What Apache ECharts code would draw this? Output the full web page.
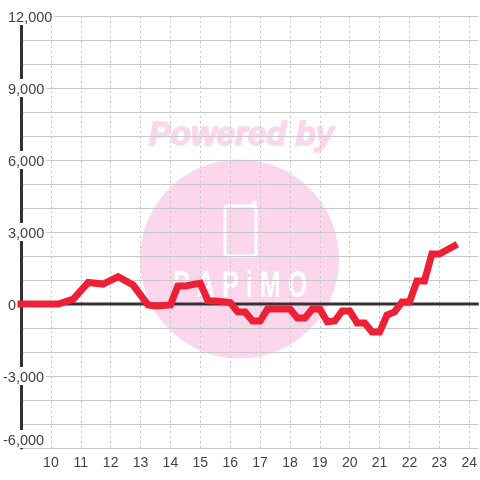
<!DOCTYPE html>
<html>
<head>
<meta charset="utf-8">
<style>
html, body { margin: 0; padding: 0; background: #fff; }
#main { width: 480px; height: 480px; }
</style>
<script src="https://cdn.jsdelivr.net/npm/echarts@6/dist/echarts.min.js"></script>
</head>
<body>
<div id="main"></div>
<script>
// time of day in hours, and the value at each time
const hours = [9, 10.25, 10.75, 11.25, 11.75, 12.25, 12.75, 13.25, 13.5, 14, 14.25, 14.5, 15, 15.25, 15.5, 16, 16.25, 16.5, 16.75, 17, 17.25, 18, 18.25, 18.5, 18.75, 19, 19.25, 19.5, 19.75, 20, 20.25, 20.5, 20.75, 21, 21.25, 21.5, 21.75, 22, 22.25, 22.5, 22.75, 23, 23.5]
const values = [0, 0, 200, 900, 830, 1140, 790, -40, -80, -40, 750, 750, 870, 140, 130, 60, -320, -330, -710, -710, -210, -210, -580, -580, -210, -210, -740, -710, -290, -290, -790, -790, -1170, -1170, -460, -330, 80, 80, 960, 960, 2080, 2080, 2420]
const zeroHours = [9, 24.32]
const zeroValues = [0, 0]
const hourLabels = [10, 11, 12, 13, 14, 15, 16, 17, 18, 19, 20, 21, 22, 23, 24]
const valueLabels = [-6000, -3000, 0, 3000, 6000, 9000, 12000]

const pink = "#fbd6ec"
const textColor = "#444444"
const axisColor = "#333333"
const gridColor = "#c8c8c8"

const chart = echarts.init(document.getElementById("main"), null, { renderer: "canvas" })

chart.setOption({
  animation: false,
  grid: { left: 20.5, right: 0, top: 16, bottom: 32 },
  graphic: [
    { type: "text", z: -10, left: 148, top: 119, style: { text: "Powered by", fill: pink, stroke: pink, lineWidth: 1.5, font: "italic bold 33px 'Liberation Sans'" } },
    { type: "circle", z: -10, shape: { cx: 239.5, cy: 259, r: 99.5 }, style: { fill: pink } },
    { type: "rect", z: -9, shape: { x: 225, y: 206, width: 31, height: 50, r: 3 }, style: { fill: "none", stroke: "#fff", lineWidth: 3 } },
    { type: "rect", z: -9, shape: { x: 253, y: 201, width: 3, height: 8, r: 1 }, style: { fill: "#fff", stroke: "#fff", lineWidth: 1 } },
    { type: "text", z: -9, x: 173, y: 269, scaleX: 0.7, style: { text: "P A P i M O", fill: "#fff", font: "bold 36px 'Liberation Sans'" } },
  ],
  xAxis: {
    type: "value",
    min: 9,
    max: 24.32,
    interval: 1,
    axisLine: { show: false, onZero: false },
    axisTick: { show: false },
    axisLabel: { customValues: hourLabels, color: textColor, fontSize: 14, fontFamily: "Liberation Sans", margin: 8 },
    splitLine: { show: true, showMaxLine: false, showMinLine: false, lineStyle: { type: [2, 3], color: gridColor, width: 1 } },
  },
  yAxis: {
    type: "value",
    min: -6000,
    max: 12000,
    interval: 1000,
    axisLine: { show: true, onZero: false, lineStyle: { color: axisColor, width: 3 } },
    axisTick: { show: false },
    axisLabel: {
      customValues: valueLabels,
      inside: true,
      margin: -18,
      align: "left",
      verticalAlignMinLabel: "bottom",
      color: textColor,
      fontSize: 14.5,
      fontFamily: "Liberation Sans",
      backgroundColor: "#fff",
      padding: [3, 2, 0, 0],
      formatter: (v) => (v < 0 ? "{n|" : "{p|") + echarts.format.addCommas(v) + "}",
      rich: {
        n: { fontSize: 14.5, color: textColor },
        p: { fontSize: 14.5, color: textColor, padding: [0, 0, 0, 5] },
      },
    },
    splitLine: { show: true, lineStyle: { color: gridColor, width: 1 } },
  },
  series: [
    {
      type: "line",
      data: zeroHours.map((h, i) => [h, zeroValues[i]]),
      symbol: "none",
      z: 3,
      lineStyle: { color: axisColor, width: 3 },
    },
    {
      type: "line",
      data: hours.map((h, i) => [h, values[i]]),
      symbol: "none",
      z: 5,
      lineStyle: { color: "#ee2036", width: 7, cap: "square", join: "miter" },
    },
  ],
})
</script>
</body>
</html>
